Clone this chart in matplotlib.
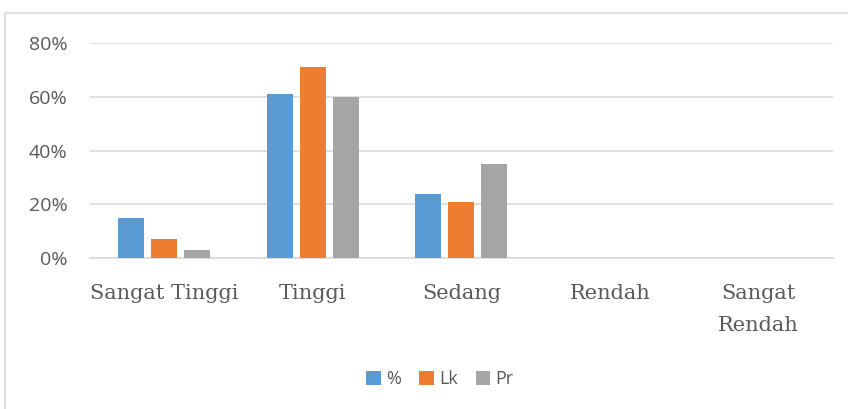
import numpy as np
import matplotlib.pyplot as plt
from matplotlib.patches import Rectangle
from matplotlib.ticker import PercentFormatter

categories = ["Sangat Tinggi", "Tinggi", "Sedang", "Rendah", "Sangat\nRendah"]
series_names = ["%", "Lk", "Pr"]
pct = [15, 61, 24, 0, 0]
lk = [7, 71, 21, 0, 0]
pr = [3, 60, 35, 0, 0]
colors = ["#5b9bd5", "#ed7d31", "#a5a5a5"]

fig = plt.figure(figsize=(8.48, 4.09), dpi=100)
ax = fig.add_axes([0.106, 0.369, 0.876, 0.526])

# outer chart border
fig.patches.append(Rectangle((5 / 848, -0.01), 1.0, 1 - 13 / 409 + 0.01,
                             transform=fig.transFigure, fill=False,
                             edgecolor="#d9d9d9", linewidth=1.2))

x = np.arange(len(categories))
w = 0.175
pitch = 0.222
for i, (vals, name) in enumerate(zip([pct, lk, pr], series_names)):
    ax.bar(x + (i - 1) * pitch, vals, width=w, color=colors[i], label=name, zorder=3)

ax.set_xlim(-0.5, len(categories) - 0.5)
ax.set_ylim(0, 80)
ax.set_yticks([0, 20, 40, 60, 80])
ax.yaxis.set_major_formatter(PercentFormatter(decimals=0))
ax.grid(axis="y", color="#d9d9d9", linewidth=1.2, zorder=0)
for s in ["top", "right", "left"]:
    ax.spines[s].set_visible(False)
ax.spines["bottom"].set_color("#d9d9d9")
ax.spines["bottom"].set_linewidth(1.2)
ax.tick_params(length=0)
ax.tick_params(axis="y", labelsize=14, labelcolor="#595959", pad=16)
for lbl in ax.get_yticklabels():
    lbl.set_family("Open Sans")

ax.set_xticks(x)
ax.set_xticklabels(categories, family="DejaVu Serif", fontsize=15,
                   color="#595959", linespacing=1.85)
ax.tick_params(axis="x", pad=19)

leg = fig.legend(loc="center", bbox_to_anchor=(440 / 848, 1 - 379 / 409), ncol=3,
                 frameon=False, handlelength=0.8, handleheight=0.8,
                 handletextpad=0.3, columnspacing=1.0,
                 prop={"family": "Open Sans", "size": 13})
for t in leg.get_texts():
    t.set_color("#595959")

fig.savefig("out.png", dpi=100)
